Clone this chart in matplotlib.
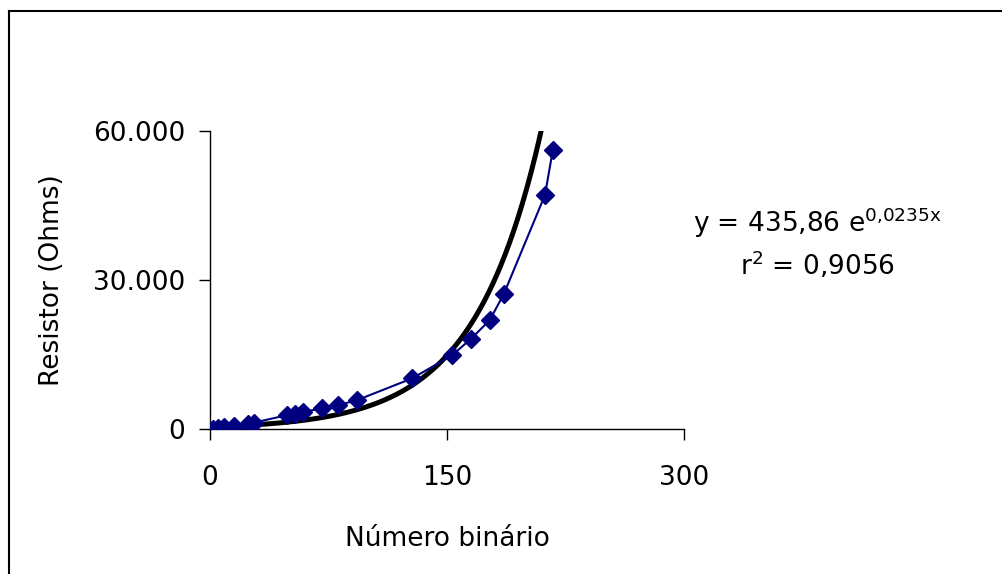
import matplotlib
matplotlib.use('Agg')
import matplotlib.pyplot as plt
import numpy as np
from matplotlib.lines import Line2D

# Measured points (binary number -> resistance in ohms)
numero = [2, 5, 9, 15, 24, 28, 49, 54, 59, 71, 81, 93, 128, 153, 165, 177, 186, 212, 217]
resistor = [100, 250, 450, 700, 1100, 1300, 2800, 3100, 3400, 4200, 4800, 5800,
            10200, 14800, 18100, 21900, 27200, 47100, 56200]

# Exponential trendline coefficients (from the chart label)
fit_a = 435.86
fit_b = 0.0235

x_ticks = [0, 150, 300]
y_ticks = [0, 30000, 60000]
y_tick_labels = ['0', '30.000', '60.000']

plt.rcParams['font.family'] = ['DejaVu Sans']
plt.rcParams['mathtext.fontset'] = 'dejavusans'

fig = plt.figure(figsize=(10.02, 5.74), dpi=100)
ax = fig.add_axes([210 / 1002, 1 - 429 / 574, (684 - 210) / 1002, (429 - 131) / 574])

# Trendline
xf = np.linspace(3, max(numero), 400)
ax.plot(xf, fit_a * np.exp(fit_b * xf), color='black', linewidth=3.6, zorder=2)

# Data series
ax.plot(numero, resistor, color='#000080', linewidth=1.5, marker='D',
        markersize=9.5, markerfacecolor='#000080', markeredgecolor='#000080', zorder=3)

ax.set_xlim(0, 300)
ax.set_ylim(0, 60000)
ax.set_xticks(x_ticks)
ax.set_xticklabels([str(t) for t in x_ticks])
ax.set_yticks(y_ticks)
ax.set_yticklabels(y_tick_labels)
ax.tick_params(direction='out', length=8, width=1, labelsize=19)
ax.tick_params(axis='x', pad=18)
ax.tick_params(axis='y', pad=10)

for s in ['top', 'right']:
    ax.spines[s].set_visible(False)
for s in ['left', 'bottom']:
    ax.spines[s].set_linewidth(1)

ax.set_xlabel('Número binário', fontsize=19, labelpad=25)
ax.set_ylabel('Resistor (Ohms)', fontsize=19, labelpad=20)

# Trendline equation
fig.text(693 / 1002, 1 - 232 / 574, r'y = 435,86 e$^{\mathregular{0{,}0235x}}$',
         fontsize=19, ha='left', va='baseline')
fig.text(818 / 1002, 1 - 275 / 574, r'r$^{\mathregular{2}}$ = 0,9056',
         fontsize=19, ha='center', va='baseline')

# Outer chart frame (cut off at right and bottom)
fig.add_artist(Line2D([9 / 1002, 1.0], [1 - 11 / 574, 1 - 11 / 574],
                      transform=fig.transFigure, color='black', linewidth=1.5))
fig.add_artist(Line2D([9 / 1002, 9 / 1002], [0.0, 1 - 11 / 574],
                      transform=fig.transFigure, color='black', linewidth=1.5))

fig.savefig('out.png', dpi=100)
